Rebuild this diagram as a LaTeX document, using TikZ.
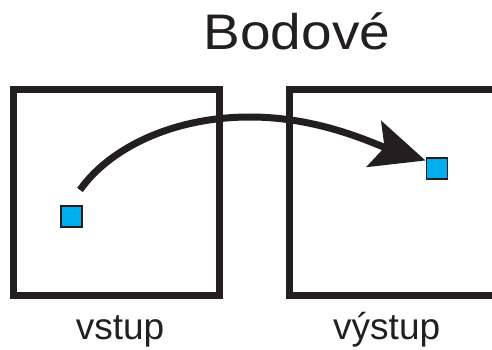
\documentclass[tikz,border=0pt]{standalone}
\usepackage{fontspec}
\setmainfont{Liberation Sans}
\usetikzlibrary{arrows.meta}
\definecolor{ink}{HTML}{231F20}
\definecolor{cyanpt}{HTML}{00AEEF}
\tikzset{
  frame/.style={draw=ink, line width=7pt, minimum size=206pt, inner sep=0pt},
  pixel/.style={draw=ink, fill=cyanpt, line width=1.8pt, minimum size=21pt, inner sep=0pt},
  label/.style={anchor=base, text=ink, font=\fontsize{37}{40}\selectfont, inner sep=0pt},
  title/.style={anchor=base, text=ink, font=\fontsize{50}{54}\selectfont, inner sep=0pt, xscale=1.1},
  flow/.style={draw=ink, line width=7pt, -{Stealth[length=54pt,width=48pt,inset=11pt]}}
}
\begin{document}
\begin{tikzpicture}[x=1pt,y=-1pt]
\useasboundingbox (0,0) rectangle (492,350);
\clip (0,0) rectangle (492,350);
\node[title] (t) at (297,50) {Bodové};
\node[frame] (in) at (116.75,192.5) {};
\node[frame] (out) at (392.5,192.5) {};
\node[pixel] (ps) at (71.5,216.5) {};
\node[pixel] (pt) at (437,168.5) {};
\node[label] (lin) at (120,339) {vstup};
\node[label] (lout) at (386.7,339) {výstup};
\coordinate (s) at (80,190);
\coordinate (m) at (250,117);
\coordinate (e) at (425.5,160.5);
\draw[flow] (s) .. controls (108,150) and (170,117) .. (m)
  .. controls (320,117) and (374,144) .. (e);
\end{tikzpicture}
\end{document}
